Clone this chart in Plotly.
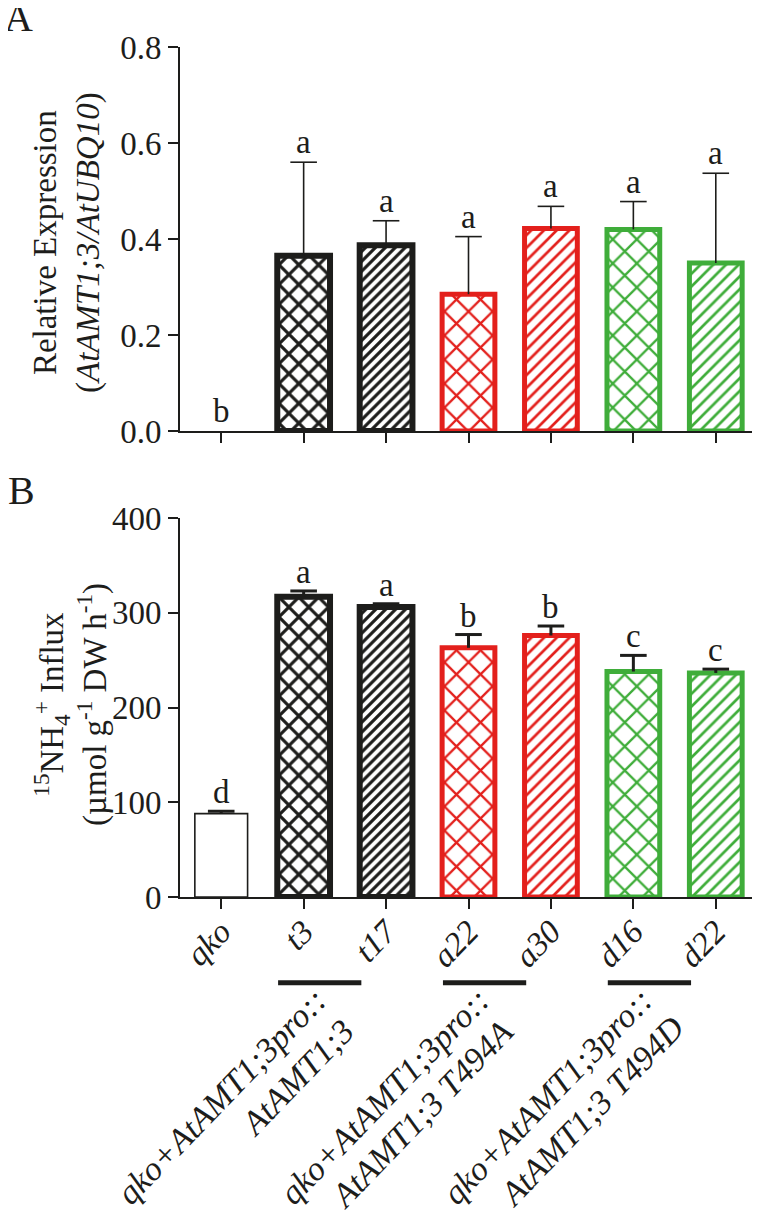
import plotly.graph_objects as go

# ---------------- data ----------------
lines = ["qko", "t3", "t17", "a22", "a30", "d16", "d22"]
expr_mean = [0.0, 0.365, 0.387, 0.285, 0.422, 0.420, 0.350]
expr_top = [None, 0.560, 0.438, 0.405, 0.468, 0.478, 0.537]
expr_letters = ["b", "a", "a", "a", "a", "a", "a"]
influx_mean = [88, 317, 306, 263, 276, 238, 236.5]
influx_top = [90.5, 323, 309.5, 277, 286, 255, 240.5]
influx_letters = ["d", "a", "a", "b", "b", "c", "c"]
group_members = [("t3", "t17"), ("a22", "a30"), ("d16", "d22")]
group_line1 = ["qko+AtAMT1;3pro::", "qko+AtAMT1;3pro::", "qko+AtAMT1;3pro::"]
group_line2 = ["AtAMT1;3", "AtAMT1;3 T494A", "AtAMT1;3 T494D"]
y1_ticks = [0.0, 0.2, 0.4, 0.6, 0.8]
y2_ticks = [0, 100, 200, 300, 400]

# ---------------- style ----------------
BLACK = "#1d1d1b"
RED = "#e3201c"
GREEN = "#3fad3a"
FONT = "Liberation Serif"
edge_colors = [BLACK, BLACK, BLACK, RED, RED, GREEN, GREEN]
pattern_shapes = ["", "x", "/", "x", "/", "x", "/"]
pattern_sizes = [10, 14, 7, 17, 9, 17, 9]
pattern_solid = [0.2, 0.4, 0.45, 0.25, 0.3, 0.25, 0.3]

OFF = 8                      # browser body margin
W, H = 760 - OFF, 1210 - OFF
L, R, T, B = 172, 3, 39, 313
PW, PH = W - L - R, H - T - B


def px_x(px):                # page pixel -> paper
    return (px - OFF - L) / PW


def px_y(py):
    return (H - B - (py - OFF)) / PH


top_dom = [px_y(431), 1.0]
bot_dom = [0.0, px_y(518)]

fig = go.Figure()


def add_bars(means, tops, xa, ya, widths, err_thick):
    fig.add_trace(go.Bar(
        x=lines, y=means, xaxis=xa, yaxis=ya, width=0.64,
        marker=dict(
            color="white",
            line=dict(color=edge_colors, width=widths),
            pattern=dict(shape=pattern_shapes, fgcolor=edge_colors, bgcolor="white",
                         size=pattern_sizes, solidity=pattern_solid, fillmode="replace"),
        ),
        showlegend=False, hoverinfo="skip",
    ))
    # error bars: cap marker at the top + stem down to the bar
    fig.add_trace(go.Scatter(
        x=lines, y=tops, xaxis=xa, yaxis=ya, mode="markers",
        marker=dict(symbol="line-ew", size=19, color=BLACK,
                    line=dict(color=BLACK, width=err_thick)),
        error_y=dict(type="data", symmetric=False, array=[0] * len(means),
                     arrayminus=[(t - m) if t is not None else None for t, m in zip(tops, means)],
                     color=BLACK, thickness=err_thick, width=0),
        showlegend=False, hoverinfo="skip",
    ))


add_bars(expr_mean, expr_top, "x", "y", [0, 6, 6, 5, 5, 5, 5], 1.6)
add_bars(influx_mean, influx_top, "x2", "y2", [1.6, 6, 6, 5, 5, 5, 5], 3)

annotations = []
for name, m, t, lab in zip(lines, expr_mean, expr_top, expr_letters):
    annotations.append(dict(x=name, y=t if t is not None else m, xref="x", yref="y",
                            text=lab, showarrow=False, yanchor="bottom", yshift=0,
                            font=dict(family=FONT, size=33, color=BLACK)))
for name, t, lab in zip(lines, influx_top, influx_letters):
    annotations.append(dict(x=name, y=t, xref="x2", yref="y2",
                            text=lab, showarrow=False, yanchor="bottom", yshift=-1,
                            font=dict(family=FONT, size=33, color=BLACK)))

# panel labels
annotations.append(dict(x=px_x(18), y=px_y(18), xref="paper", yref="paper", text="A",
                        showarrow=False, xanchor="center", yanchor="middle",
                        font=dict(family=FONT, size=40, color=BLACK)))
annotations.append(dict(x=px_x(21), y=px_y(490), xref="paper", yref="paper", text="B",
                        showarrow=False, xanchor="center", yanchor="middle",
                        font=dict(family=FONT, size=40, color=BLACK)))

# y-axis titles
annotations.append(dict(x=px_x(67), y=px_y(242), xref="paper", yref="paper",
                        text="Relative Expression<br>(<i>AtAMT1;3/AtUBQ10</i>)",
                        textangle=-90, showarrow=False, xanchor="center", yanchor="middle",
                        font=dict(family=FONT, size=33, color=BLACK)))
annotations.append(dict(x=px_x(71), y=px_y(705), xref="paper", yref="paper",
                        text="<sup>15</sup>NH<sub>4</sub><sup>+</sup> Influx<br>(µmol g<sup>-1</sup> DW h<sup>-1</sup>)",
                        textangle=-90, showarrow=False, xanchor="center", yanchor="middle",
                        font=dict(family=FONT, size=33, color=BLACK)))

# group labels
line1_centers = [(221, 1096), (384, 1096), (547, 1096)]
line2_centers = [(297, 1077), (421, 1114), (591, 1111)]
for t1, t2, c1, c2 in zip(group_line1, group_line2, line1_centers, line2_centers):
    annotations.append(dict(x=px_x(c1[0]), y=px_y(c1[1]), xref="paper", yref="paper",
                            text=f"<i>{t1}</i>", textangle=-46, showarrow=False,
                            xanchor="center", yanchor="middle",
                            font=dict(family=FONT, size=34, color=BLACK)))
    annotations.append(dict(x=px_x(c2[0]), y=px_y(c2[1]), xref="paper", yref="paper",
                            text=f"<i>{t2}</i>", textangle=-46, showarrow=False,
                            xanchor="center", yanchor="middle",
                            font=dict(family=FONT, size=34, color=BLACK)))

shapes = []
for a, b in group_members:
    ia, ib = lines.index(a), lines.index(b)
    shapes.append(dict(type="line", xref="x2", yref="paper",
                       x0=ia - 0.31, x1=ib - 0.30, y0=px_y(982.7), y1=px_y(982.7),
                       line=dict(color=BLACK, width=5)))

axis_common = dict(showline=True, linecolor=BLACK, linewidth=2, ticks="outside",
                   ticklen=10, tickwidth=2, tickcolor=BLACK, showgrid=False, zeroline=False,
                   tickfont=dict(family=FONT, size=33, color=BLACK))

fig.update_layout(
    width=W, height=H,
    margin=dict(l=L, r=R, t=T, b=B),
    paper_bgcolor="white", plot_bgcolor="white",
    showlegend=False, bargap=0.3,
    xaxis=dict(domain=[0, 1], anchor="y", range=[-0.5, 6.5], type="category",
               categoryorder="array", categoryarray=lines,
               showticklabels=False, **axis_common),
    yaxis=dict(domain=top_dom, anchor="x", range=[0, 0.8], tickvals=y1_ticks,
               ticktext=[f"{v:.1f}" for v in y1_ticks], **axis_common),
    xaxis2=dict(domain=[0, 1], anchor="y2", range=[-0.5, 6.5], type="category",
                categoryorder="array", categoryarray=lines,
                tickvals=lines, ticktext=[f"<i>{n}</i>" for n in lines], tickangle=-46,
                ticklabelstandoff=-10, **axis_common),
    yaxis2=dict(domain=bot_dom, anchor="x2", range=[0, 400], tickvals=y2_ticks,
                ticktext=[str(v) for v in y2_ticks], **axis_common),
    annotations=annotations,
    shapes=shapes,
)

fig.write_html("out.html")
